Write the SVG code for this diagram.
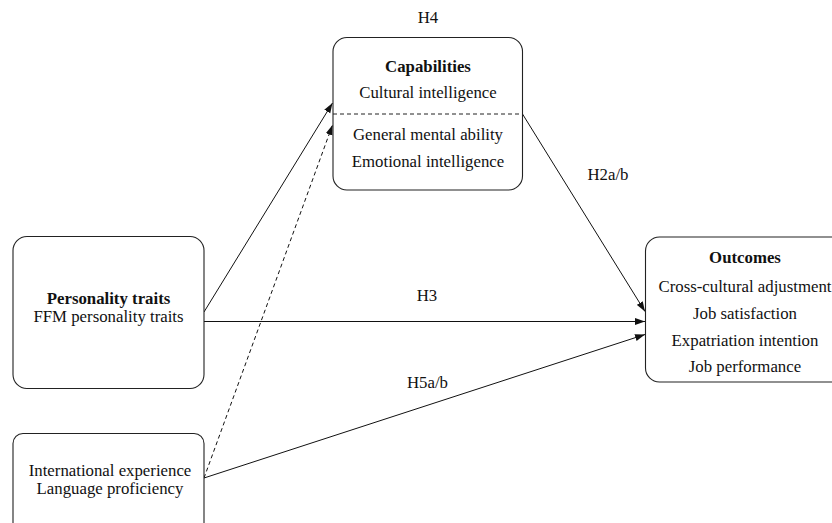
<svg xmlns="http://www.w3.org/2000/svg" width="832" height="523" viewBox="0 0 832 523">
<style>
.box{fill:#fff;stroke:#222;stroke-width:1.1}
text{font-size:16.8px;fill:#111;text-anchor:middle}
.b{font-weight:bold}
.c{stroke:#111;stroke-width:1;fill:none}
.d{stroke-dasharray:4,3}
</style>
<defs>
<marker id="ah" markerUnits="userSpaceOnUse" markerWidth="10" markerHeight="8" refX="10" refY="4" orient="auto">
<path d="M0,0.5 L10,4 L0,7.5 z" fill="#111"/>
</marker>
</defs>
<rect width="832" height="523" fill="#fff"/>
<g font-family="Liberation Serif, Times New Roman, serif">
<g id="connectors">
<line class="c" x1="204" y1="312" x2="332.5" y2="103" marker-end="url(#ah)"/>
<line class="c d" x1="204" y1="478" x2="332.5" y2="125" marker-end="url(#ah)"/>
<line class="c" x1="204" y1="321.5" x2="645" y2="321.5" marker-end="url(#ah)"/>
<line class="c" x1="204" y1="478" x2="645" y2="334.5" marker-end="url(#ah)"/>
<line class="c" x1="522.5" y1="114" x2="645" y2="311.5" marker-end="url(#ah)"/>
<text x="428" y="23">H4</text>
<text x="608" y="180">H2a/b</text>
<text x="427" y="301">H3</text>
<text x="427.5" y="388">H5a/b</text>
</g>
<g id="capabilities">
<rect class="box" x="333" y="37.5" width="189.5" height="152.5" rx="14"/>
<line x1="333" y1="114" x2="522.5" y2="114" stroke="#222" stroke-width="1" stroke-dasharray="4,3"/>
<text class="b" x="428" y="72">Capabilities</text>
<text x="428" y="98">Cultural intelligence</text>
<text x="428" y="139.5">General mental ability</text>
<text x="428" y="166.5">Emotional intelligence</text>
</g>
<g id="personality">
<rect class="box" x="13" y="236.5" width="191" height="152" rx="14"/>
<text class="b" x="108.5" y="304">Personality traits</text>
<text x="108.5" y="321.5">FFM personality traits</text>
</g>
<g id="experience">
<rect class="box" x="13" y="433.5" width="191" height="110" rx="10"/>
<text x="110" y="476">International experience</text>
<text x="110" y="494">Language proficiency</text>
</g>
<g id="outcomes">
<rect class="box" x="645.5" y="237" width="210" height="145" rx="14"/>
<text class="b" x="745" y="263">Outcomes</text>
<text x="745" y="291.5">Cross-cultural adjustment</text>
<text x="745" y="319">Job satisfaction</text>
<text x="745" y="346">Expatriation intention</text>
<text x="745" y="371.5">Job performance</text>
</g>
</g>
</svg>
